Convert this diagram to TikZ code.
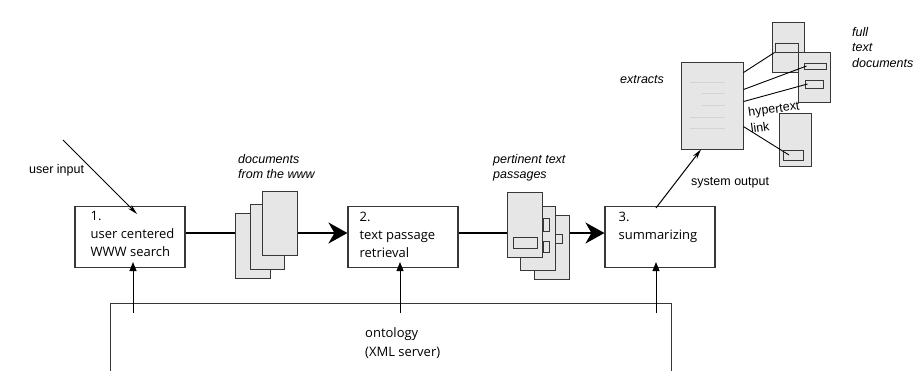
\documentclass[tikz,border=0pt]{standalone}
\usepackage{fontspec}
\setmainfont{Liberation Sans}
\newfontfamily\stagefont{Open Sans}
\usetikzlibrary{arrows.meta}
\definecolor{pageGray}{RGB}{230,230,230}
\definecolor{edgeGray}{RGB}{55,55,55}
\definecolor{faintGray}{RGB}{212,212,212}

\begin{document}
\begin{tikzpicture}[x=1pt, y=-1pt,
  stage/.style={rectangle, draw=edgeGray, line width=1.1pt, fill=white,
                minimum width=110pt, minimum height=61pt, inner sep=0pt},
  stagetxt/.style={anchor=north west, align=left, inner sep=0pt,
                   font=\stagefont\fontsize{13}{18}\selectfont},
  page/.style={rectangle, draw=edgeGray, line width=0.9pt, fill=pageGray,
               minimum width=35pt, minimum height=65pt, inner sep=0pt},
  slot/.style={rectangle, draw=edgeGray, line width=0.9pt, fill=pageGray, inner sep=0pt},
  note/.style={inner sep=0pt, align=left, font=\itshape\fontsize{12.5}{15.5}\selectfont},
  plain/.style={inner sep=0pt, font=\fontsize{12.5}{15}\selectfont},
  flow/.style={line width=2.2pt, -{Stealth[length=19pt,width=21pt,inset=6pt]}},
  feed/.style={line width=1pt, -{Triangle[length=9pt,width=7pt]}, shorten >=-6pt},
  io/.style={line width=1pt, -{Stealth[open,length=10pt,width=5pt]}},
  link/.style={line width=0.9pt},
]
  \useasboundingbox[fill=white] (0,0) rectangle (916,370);

  % processing stages
  \node[stage] (s1) at (130,237) {};
  \node[stage] (s2) at (403,237) {};
  \node[stage] (s3) at (660,237) {};
  \node[stagetxt] (s1t) at ([xshift=16pt,yshift=-5.5pt]s1.north west) {1.\\user centered\\WWW search};
  \node[stagetxt] (s2t) at ([xshift=12pt,yshift=-5.5pt]s2.north west) {2.\\text passage\\retrieval};
  \node[stagetxt] (s3t) at ([xshift=14pt,yshift=-5.5pt]s3.north west) {3.\\summarizing};

  % main flow
  \draw[flow] ([yshift=4pt]s1.east) -- ([yshift=4pt]s2.west);
  \draw[flow] ([yshift=4pt]s2.east) -- ([yshift=4pt]s3.west);

  % documents from the www
  \node[page] (pA) at (252.5,245.5) {};
  \node[page, minimum width=34pt] (pB) at (267,236.5) {};
  \node[page, minimum height=64pt] (pC) at (279.5,223) {};
  \node[note, anchor=north west] (docs) at (238,154) {documents\\from the www};

  % pertinent text passages
  \node[page, minimum height=64pt] (qC) at (551.5,247) {};
  \node[slot, minimum width=7pt, minimum height=9pt] (qc1) at (558.5,238.5) {};
  \node[page, minimum height=64pt] (qB) at (537.5,238) {};
  \node[slot, minimum width=6pt, minimum height=13pt] (qb1) at (546,224.5) {};
  \node[slot, minimum width=6pt, minimum height=11pt] (qb2) at (546,246.5) {};
  \node[page] (qA) at (524.5,224.5) {};
  \node[slot, minimum width=24pt, minimum height=11pt] (qa1) at (525,242.5) {};
  \node[note, anchor=north west] (pert) at (493,154) {pertinent text\\passages};

  % ontology
  \coordinate (ontNW) at (110,303);
  \coordinate (ontNE) at (671,303);
  \draw[line width=1pt, edgeGray] (ontNW |- 0,372) -- (ontNW) -- (ontNE) -- (ontNE |- 0,372);
  \node[stagetxt, font=\stagefont\fontsize{13}{19}\selectfont] (ont) at (365,327) {ontology\\(XML server)};
  \coordinate (f1) at (133,313);
  \coordinate (f2) at (400,313);
  \coordinate (f3) at (656,313);
  \draw[feed] (f1) -- (f1 |- s1.south);
  \draw[feed] (f2) -- (f2 |- s2.south);
  \draw[feed] (f3) -- (f3 |- s3.south);

  % user input
  \coordinate (uin) at (63,140);
  \draw[io] (uin) -- ([xshift=7pt,yshift=-8pt]s1.north);
  \node[plain, anchor=west] (uinl) at (29,170) {user input};

  % system output
  \node[page, minimum width=62pt, minimum height=87pt] (extr) at (712,105.5) {};
  \foreach \yy/\xa in {82/690, 93/702, 105/702, 117/690, 128/690}
    \draw[faintGray, line width=0.7pt] (\xa,\yy) -- (725,\yy);
  \node[note, anchor=west] (extrl) at (620,80) {extracts};
  \draw[io] ([xshift=-4pt,yshift=-2pt]s3.north) -- ([xshift=-11pt]extr.south);
  \node[plain, anchor=west] (outl) at (691,183) {system output};

  % full text documents
  \node[page, minimum width=32pt, minimum height=50pt] (d1) at (788,47) {};
  \node[page, minimum width=32pt, minimum height=50pt] (d2) at (814,77) {};
  \node[slot, minimum width=23pt, minimum height=9pt, fill=none] (in1) at (786.5,47.5) {};
  \node[slot, minimum width=22pt, minimum height=6pt] (in2a) at (815,66) {};
  \node[slot, minimum width=18pt, minimum height=8pt] (in2b) at (814,84) {};
  \node[page, minimum width=32pt, minimum height=53pt] (d3) at (795,139.5) {};
  \node[slot, minimum width=20pt, minimum height=10pt] (in3) at (793,155) {};
  \node[note, anchor=north west] (full) at (852,27) {full\\text\\documents};

  % hypertext links
  \draw[link] ([yshift=-11pt]extr.north east) -- (in1.south west);
  \draw[link] ([yshift=-28pt]extr.north east) -- ([xshift=3pt]in2a.west);
  \draw[link] ([yshift=-40pt]extr.north east) -- ([xshift=3pt]in2b.west);
  \draw[link] ([yshift=-65pt]extr.north east) -- ([xshift=-4pt]in3.center);
  \node[plain, rotate=8] (hyp) at (774,110) {hypertext};
  \node[plain, rotate=8] (lnk) at (760,127) {link};
\end{tikzpicture}
\end{document}
